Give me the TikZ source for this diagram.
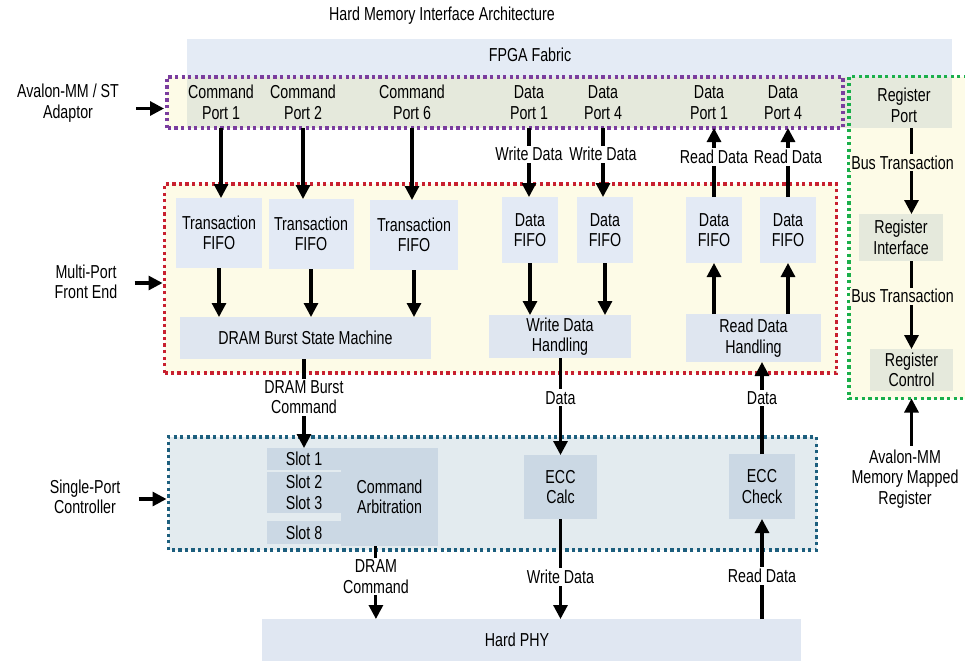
\documentclass[tikz,border=0pt]{standalone}
\usepackage{fontspec}
\setmainfont{Liberation Sans}[FakeStretch=0.76]
\usetikzlibrary{arrows.meta,calc}
\definecolor{fabricblue}{HTML}{E4EBF5}
\definecolor{paleyellow}{HTML}{FDFBE7}
\definecolor{portgreen}{HTML}{E5E9DC}
\definecolor{fifoblue}{HTML}{E3EAF5}
\definecolor{burstblue}{HTML}{DFE6F0}
\definecolor{ctrlblue}{HTML}{E3EBEF}
\definecolor{slotblue}{HTML}{CBD8E4}
\definecolor{phyblue}{HTML}{E0E7F2}
\definecolor{purpledot}{HTML}{7A3D9E}
\definecolor{reddot}{HTML}{C8202F}
\definecolor{tealdot}{HTML}{1D5F7E}
\definecolor{greendot}{HTML}{1AAF4B}
\tikzset{
  wh/.style 2 args={minimum width=#1*0.3mm, minimum height=#2*0.3mm},
  pane/.style={inner sep=0pt, outer sep=0pt},
  block/.style={fill=fifoblue, inner sep=1pt, outer sep=0pt, align=center},
  slotbox/.style={block, fill=slotblue},
  porttext/.style={inner sep=0pt, outer sep=0pt, align=center},
  sidetext/.style={align=center},
  dotframe/.style={line width=2.6pt, dash pattern=on 2.8pt off 2.8pt},
  wire/.style={line width=2.6pt, -{Triangle[length=4.2mm, width=4.2mm]}},
  wiretag/.style={fill=white, inner sep=1.5pt, align=center},
}

\begin{document}
\begin{tikzpicture}[x=0.3mm, y=-0.3mm, font=\fontsize{16}{17.5}\selectfont]
\useasboundingbox (0,0) rectangle (965,660);
\node (title) at (442,16) {Hard Memory Interface Architecture};

% backgrounds
\node[pane, fill=fabricblue, wh={765}{38}] (fabric) at (569.5,58) {};
\node (fabrictext) at (530,55) {FPGA Fabric};
\node[pane, fill=paleyellow, wh={676}{51}] (adaptor) at (505,102.5) {};
\node[pane, fill=paleyellow, wh={118}{322}] (regframe) at (908,237.5) {};
\node[pane, fill=paleyellow, wh={672}{189}] (frontend) at (500.5,278.5) {};
\node[pane, fill=ctrlblue, wh={648}{113}] (ctrl) at (492.5,493.5) {};
\node[pane, fill=portgreen, wh={765}{51}] (portband) at (569.5,102.5) {};
\node[pane, fill=phyblue, wh={539}{45}] (phy) at (531.5,641.5) {};
\node (phytext) at (517,640) {Hard PHY};

% dotted outlines
\draw[dotframe, draw=purpledot] (adaptor.south west) rectangle (adaptor.north east);
\draw[dotframe, draw=reddot] (frontend.south west) rectangle (frontend.north east);
\draw[dotframe, draw=tealdot] (ctrl.south west) rectangle (ctrl.north east);
\draw[dotframe, draw=greendot] (regframe.north east) -- (regframe.north west) -- (regframe.south west) -- (regframe.south east);

% ports
\node[porttext, wh={70}{51}] (cport1) at (221,102.5) {Command\\Port 1};
\node[porttext, wh={70}{51}] (cport2) at (303,102.5) {Command\\Port 2};
\node[porttext, wh={70}{51}] (cport6) at (412,102.5) {Command\\Port 6};
\node[porttext, wh={50}{51}] (wport1) at (529,102.5) {Data\\Port 1};
\node[porttext, wh={50}{51}] (wport4) at (603,102.5) {Data\\Port 4};
\node[porttext, wh={50}{51}] (rport1) at (709,102.5) {Data\\Port 1};
\node[porttext, wh={50}{51}] (rport4) at (783,102.5) {Data\\Port 4};
\node[porttext, wh={102}{45}] (regport) at (904,105.5) {Register\\Port};

% multi-port front end
\node[block, wh={86}{70}] (tfifo1) at (219,233) {Transaction\\FIFO};
\node[block, wh={85}{70}] (tfifo2) at (311,234) {Transaction\\FIFO};
\node[block, wh={88}{70}] (tfifo6) at (414,235) {Transaction\\FIFO};
\node[block, fill=burstblue, wh={251}{42}] (burst) at (305.5,338) {DRAM Burst State Machine};
\node[block, wh={56}{66}] (wfifo1) at (530,230) {Data\\FIFO};
\node[block, wh={56}{66}] (wfifo4) at (605,230) {Data\\FIFO};
\node[block, wh={56}{66}] (rfifo1) at (714,230) {Data\\FIFO};
\node[block, wh={56}{66}] (rfifo4) at (788,230) {Data\\FIFO};
\node[block, fill=burstblue, wh={142}{43}] (wrhandle) at (560,336.5) {Write Data\\Handling};
\node[block, fill=burstblue, wh={135}{48}] (rdhandle) at (753.5,338) {Read Data\\Handling};

% single-port controller
\node[slotbox, wh={74}{22}] (slot1) at (304,459) {Slot 1};
\node[slotbox, wh={74}{41}] (slot2) at (304,492.5) {Slot 2\\Slot 3};
\node[slotbox, wh={74}{23}] (slot8) at (304,532.5) {Slot 8};
\node[slotbox, wh={97}{98}] (arbiter) at (389.5,497) {Command\\Arbitration};
\node[slotbox, wh={73}{64}] (ecccalc) at (560.5,487) {ECC\\Calc};
\node[slotbox, wh={66}{65}] (ecccheck) at (762,486.5) {ECC\\Check};
\coordinate (cmdout) at ($(arbiter.south west)!0.36!(arbiter.south east)$);

% register path
\node[block, fill=portgreen, wh={84}{47}] (regif) at (901,237.5) {Register\\Interface};
\node[block, fill=portgreen, wh={83}{42}] (regctl) at (911.5,370) {Register\\Control};
\node[sidetext] (avmm) at (905,479) {Avalon-MM\\Memory Mapped\\Register};

% side labels
\node[sidetext] (avst) at (68,103) {Avalon-MM / ST\\Adaptor};
\node[sidetext] (mpfe) at (86,282) {Multi-Port\\Front End};
\node[sidetext] (spc) at (85,497) {Single-Port\\Controller};
\draw[wire] ([shift={(-31,6)}]adaptor.west) -- ([shift={(-3,6)}]adaptor.west);
\draw[wire] ([shift={(-30,4.5)}]frontend.west) -- ([shift={(-2,4.5)}]frontend.west);
\draw[wire] ([shift={(-30,5.5)}]ctrl.west) -- ([shift={(-2,5.5)}]ctrl.west);

% command flow
\draw[wire] (cport1.south) -- (cport1.south |- tfifo1.north);
\draw[wire] (cport2.south) -- (cport2.south |- tfifo2.north);
\draw[wire] (cport6.south) -- (cport6.south |- tfifo6.north);
\draw[wire] (tfifo1.south) -- (tfifo1.south |- burst.north);
\draw[wire] (tfifo2.south) -- (tfifo2.south |- burst.north);
\draw[wire] (tfifo6.south) -- (tfifo6.south |- burst.north);
\draw[wire] (burst.south -| slot1.north) -- node[wiretag, pos=0.43] {DRAM Burst\\Command} (slot1.north);
\draw[wire] (cmdout) -- node[wiretag, pos=0.42] {DRAM\\Command} (cmdout |- phy.north);

% write data flow
\draw[wire] (wport1.south) -- node[wiretag, pos=0.38] {Write Data} (wport1.south |- wfifo1.north);
\draw[wire] (wport4.south) -- node[wiretag, pos=0.38] {Write Data} (wport4.south |- wfifo4.north);
\draw[wire] (wfifo1.south) -- (wfifo1.south |- wrhandle.north);
\draw[wire] (wfifo4.south) -- (wfifo4.south |- wrhandle.north);
\draw[wire] (wrhandle.south -| ecccalc.north) -- node[wiretag, pos=0.41] {Data} (ecccalc.north);
\draw[wire] (ecccalc.south) -- node[wiretag, pos=0.58] {Write Data} (ecccalc.south |- phy.north);

% read data flow
\draw[wire] (ecccheck.south |- phy.north) -- node[wiretag, pos=0.43] {Read Data} (ecccheck.south);
\draw[wire] (ecccheck.north) -- node[wiretag, pos=0.61] {Data} (ecccheck.north |- rdhandle.south);
\draw[wire] (rfifo1.south |- rdhandle.north) -- (rfifo1.south);
\draw[wire] (rfifo4.south |- rdhandle.north) -- (rfifo4.south);
\draw[wire] (rfifo1.north) -- node[wiretag, pos=0.58] {Read Data} (rfifo1.north |- rport1.south);
\draw[wire] (rfifo4.north) -- node[wiretag, pos=0.58] {Read Data} (rfifo4.north |- rport4.south);

% register access
\draw[wire] (regport.south -| regctl.north) -- node[wiretag, fill=paleyellow, pos=0.4, xshift=-2.7mm] {Bus Transaction} (regif.north -| regctl.north);
\draw[wire] (regif.south -| regctl.north) -- node[wiretag, fill=paleyellow, pos=0.4, xshift=-2.7mm] {Bus Transaction} (regctl.north);
\draw[wire] (avmm.north -| regctl.north) -- (regframe.south -| regctl.north);
\end{tikzpicture}
\end{document}
